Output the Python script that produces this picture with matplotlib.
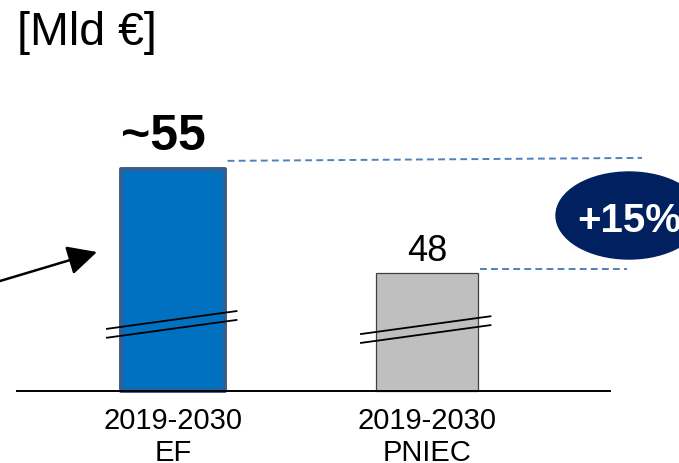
import matplotlib.pyplot as plt
from matplotlib.patches import Ellipse

plt.rcParams['font.family'] = ['Liberation Sans', 'DejaVu Sans']

# data
categories = ['2019-2030\nEF', '2019-2030\nPNIEC']
values = [55, 48]
value_labels = ['~55', '48']
delta_label = '+15%'
unit_label = '[Mld €]'
base = 40  # broken axis: bars start here

fig = plt.figure(figsize=(6.79, 4.64), dpi=100)
ax = fig.add_axes([0, 0, 1, 1])
ax.axis('off')

# pixel -> data helpers (layout only)
sx, x0 = 254.0, 173.0
sy, y0 = 14.8, 392.0
def px2x(p):
    return (p - x0) / sx
def px2y(p):
    return base + (y0 - p) / sy

ax.set_xlim(px2x(0), px2x(679))
ax.set_ylim(px2y(464), px2y(0))

xs = [0, 1]
ax.bar(xs[0], values[0] - base, bottom=base, width=0.41, color='#0070C0',
       edgecolor='#385D8A', linewidth=2.8, joinstyle='round', zorder=2)
ax.bar(xs[1], values[1] - base, bottom=base, width=0.40, color='#BFBFBF',
       edgecolor='#404040', linewidth=0.9, zorder=2)

# baseline
ax.plot([px2x(17), px2x(610)], [base, base], color='black', lw=1.4, zorder=3)

# break marks
for x, dy in zip(xs, [0.0, -0.35]):
    for off in [0, -0.6]:
        ax.plot([x - 0.26, x + 0.25], [base + 4.2 + off + dy, base + 5.4 + off + dy],
                color='black', lw=1.3, zorder=4)

# value labels
ax.text(xs[0] - 0.037, values[0] + 1.35, value_labels[0], ha='center', va='baseline',
        fontsize=36, fontweight='bold')
ax.text(xs[1], values[1] + 0.85, value_labels[1], ha='center', va='baseline', fontsize=26)

# category labels
for x, c in zip(xs, categories):
    ax.text(x, base - 1.0, c, ha='center', va='top', fontsize=21, linespacing=1.18)

# dashed guide lines
ax.plot([xs[0] + 0.215, px2x(642)], [values[0] + 0.55, values[0] + 0.75],
        color='#4F81BD', lw=1.4, dashes=(3.5, 2.2), zorder=1)
ax.plot([xs[1] + 0.21, px2x(627)], [values[1] + 0.27, values[1] + 0.27],
        color='#4F81BD', lw=1.4, dashes=(3.5, 2.2), zorder=1)

# delta bubble
ex, ey = px2x(629), px2y(216.5)
ax.add_patch(Ellipse((ex, ey), 146 / sx, 87 / sy, color='#002060', zorder=5))
ax.text(ex, px2y(232), delta_label, ha='center', va='baseline', fontsize=29,
        fontweight='bold', color='white', zorder=6)

# arrow from left
ax.annotate('', xy=(px2x(97), px2y(253)), xytext=(px2x(-20), px2y(288)),
            arrowprops=dict(arrowstyle='-|>,head_length=0.9,head_width=0.45',
                            mutation_scale=20, color='black', lw=1.8,
                            shrinkA=0, shrinkB=0), annotation_clip=False)

fig.text(17 / 679, 1 - 45 / 464, unit_label, ha='left', va='baseline', fontsize=33.5)

fig.savefig('out.png', dpi=100)
